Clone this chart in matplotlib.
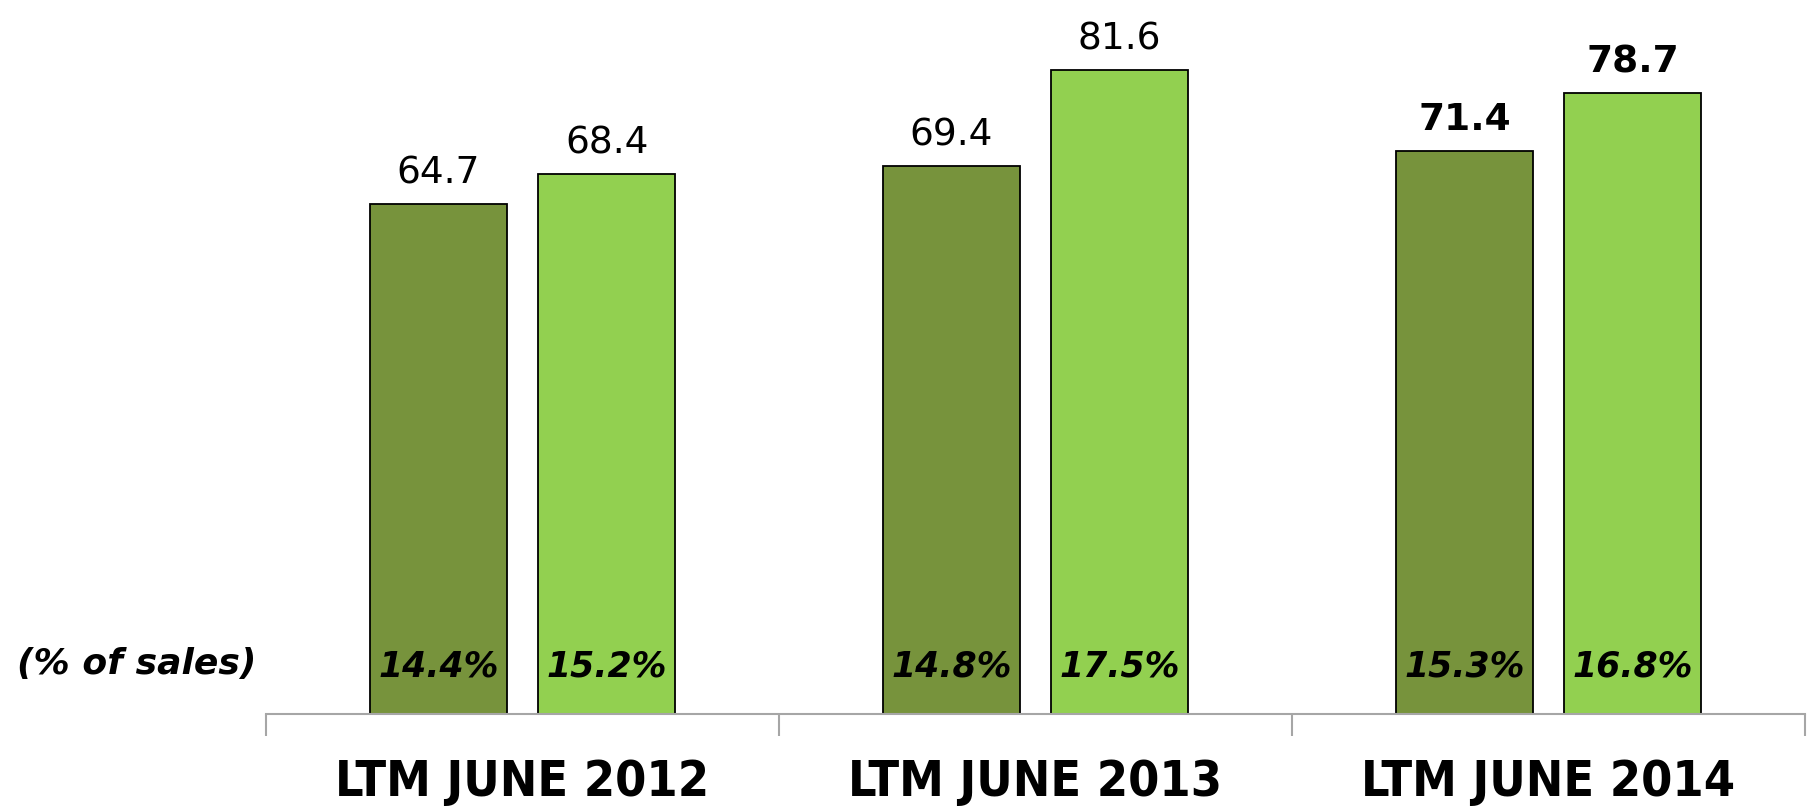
import numpy as np
import matplotlib
matplotlib.use("Agg")
import matplotlib.pyplot as plt

# data
periods = ['LTM JUNE 2012', 'LTM JUNE 2013', 'LTM JUNE 2014']
series_a = [64.7, 69.4, 71.4]
series_b = [68.4, 81.6, 78.7]
pct_a = ['14.4%', '14.8%', '15.3%']
pct_b = ['15.2%', '17.5%', '16.8%']

dark = '#77933C'
light = '#92D050'
grey = '#A6A6A6'

fig = plt.figure(figsize=(18.12, 8.07), dpi=100)
ax = fig.add_axes([0.1468, 0.1152, 0.8493, 0.8848])

x = np.arange(len(periods))
w = 0.268
off = 0.164
ba = ax.bar(x - off, series_a, w, color=dark, edgecolor='black', linewidth=1.3)
bb = ax.bar(x + off, series_b, w, color=light, edgecolor='black', linewidth=1.3)

ax.set_xlim(-0.5, 2.5)
ax.set_ylim(0, 90.5)

# value labels on top; last period in bold
for i in range(len(periods)):
    wt = 'bold' if i == len(periods) - 1 else 'normal'
    ax.annotate(f'{series_a[i]:.1f}', (x[i] - off, series_a[i]), xytext=(0, 9),
                textcoords='offset points', ha='center', va='bottom',
                fontsize=27, fontweight=wt)
    ax.annotate(f'{series_b[i]:.1f}', (x[i] + off, series_b[i]), xytext=(0, 9),
                textcoords='offset points', ha='center', va='bottom',
                fontsize=27, fontweight=wt)
    ax.text(x[i] - off, 6.0, pct_a[i], ha='center', va='center', fontsize=25,
            fontweight='bold', style='italic')
    ax.text(x[i] + off, 6.0, pct_b[i], ha='center', va='center', fontsize=25,
            fontweight='bold', style='italic')

fig.text(0.0094, 0.177, '(% of sales)', ha='left', va='center', fontsize=26,
         fontweight='bold', style='italic')

# axis styling
for s in ['top', 'right', 'left']:
    ax.spines[s].set_visible(False)
ax.spines['bottom'].set_color(grey)
ax.spines['bottom'].set_linewidth(1.5)
ax.set_yticks([])
ax.set_xticks(x)
ax.set_xticklabels(periods, fontsize=36, fontweight='bold', fontstretch='condensed')
ax.tick_params(axis='x', which='major', length=0, pad=32)
ax.set_xticks([-0.5, 0.5, 1.5, 2.5], minor=True)
ax.tick_params(axis='x', which='minor', length=16, width=1.5, color=grey)

fig.savefig('out.png', dpi=100)
